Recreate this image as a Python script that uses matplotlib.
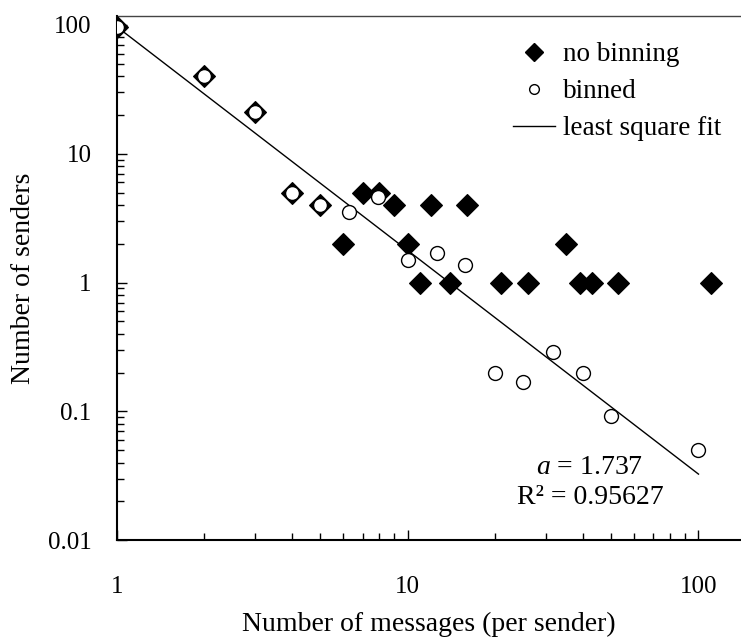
import matplotlib
matplotlib.use("Agg")
import matplotlib.pyplot as plt
from matplotlib.lines import Line2D
import numpy as np

plt.rcParams['font.family'] = ['Liberation Serif', 'DejaVu Serif']
plt.rcParams['mathtext.fontset'] = 'custom'
plt.rcParams['mathtext.rm'] = 'Liberation Serif'
plt.rcParams['mathtext.it'] = 'Liberation Serif:italic'

# raw counts (no binning)
raw_x = [1, 2, 3, 4, 5, 6, 7, 8, 9, 10, 11, 12, 14, 16, 21, 26, 35, 39, 43, 53, 110]
raw_y = [96, 40, 21, 5, 4, 2, 5, 5, 4, 2, 1, 4, 1, 4, 1, 1, 2, 1, 1, 1, 1]

# log-binned counts
bin_x = [1, 2, 3, 4, 5, 6.3, 7.9, 10, 12.6, 15.8, 20, 25, 31.6, 40, 50, 100]
bin_y = [96, 40, 21, 5, 4, 3.5, 4.6, 1.5, 1.7, 1.38, 0.2, 0.17, 0.29, 0.2, 0.092, 0.05]

# least square fit y = C * x^-a
fit_a = 1.737
fit_c = 97.0
fit_r2 = 0.95627
fit_x = np.array([1, 100])
fit_y = fit_c * fit_x ** (-fit_a)

fig = plt.figure(figsize=(7.41, 6.40), dpi=100)
ax = fig.add_axes([0.1575, 0.156, 0.8425, 0.8195])

ax.plot(fit_x, fit_y, color='black', lw=1.0, zorder=2)
ax.plot(raw_x, raw_y, 'D', ms=11, color='black', mew=0.8, zorder=3)
ax.plot(bin_x, bin_y, 'o', ms=10, mfc='white', mec='black', mew=1.0, zorder=4)

ax.set_xscale('log')
ax.set_yscale('log')
ax.set_xlim(1, 140)
ax.set_ylim(0.01, 118)

ax.set_xticks([1, 10, 100])
ax.set_xticklabels(['1', '10', '100'])
ax.set_yticks([0.01, 0.1, 1, 10, 100])
ax.set_yticklabels(['0.01', '0.1', '1', '10', '100'])

ax.tick_params(axis='both', which='both', direction='in', labelsize=18, width=1.0)
ax.tick_params(axis='both', which='major', length=7)
ax.tick_params(axis='both', which='minor', length=5)
ax.tick_params(axis='x', which='both', pad=26)
ax.tick_params(axis='y', which='both', pad=18)

ax.spines['right'].set_visible(False)
ax.spines['top'].set_color('#444444')
ax.spines['top'].set_linewidth(1.0)
ax.spines['left'].set_linewidth(1.5)
ax.spines['bottom'].set_linewidth(1.5)

ax.set_xlabel('Number of messages (per sender)', fontsize=20)
ax.set_ylabel('Number of senders', fontsize=20)
ax.xaxis.set_label_coords(0.5, -0.136)
ax.yaxis.set_label_coords(-0.129, 0.5)

handles = [
    Line2D([], [], marker='D', ls='none', color='black', ms=9),
    Line2D([], [], marker='o', ls='none', mfc='white', mec='black', ms=7),
    Line2D([], [], color='black', lw=1.0),
]
labels = ['no binning', 'binned', 'least square fit']
fig.legend(handles, labels, loc='upper left', bbox_to_anchor=(513 / 741, 1 - 42 / 640),
           frameon=False, fontsize=19.5, borderpad=0, borderaxespad=0,
           handlelength=1.55, handletextpad=0.3, labelspacing=0.45)

fig.text(590 / 741, 1 - 467 / 640, r'$a$ = 1.737', ha='center', va='center', fontsize=20)
fig.text(590 / 741, 1 - 497 / 640, 'R\u00b2 = %.5f' % fit_r2, ha='center', va='center', fontsize=20)

fig.savefig('out.png', dpi=100)
